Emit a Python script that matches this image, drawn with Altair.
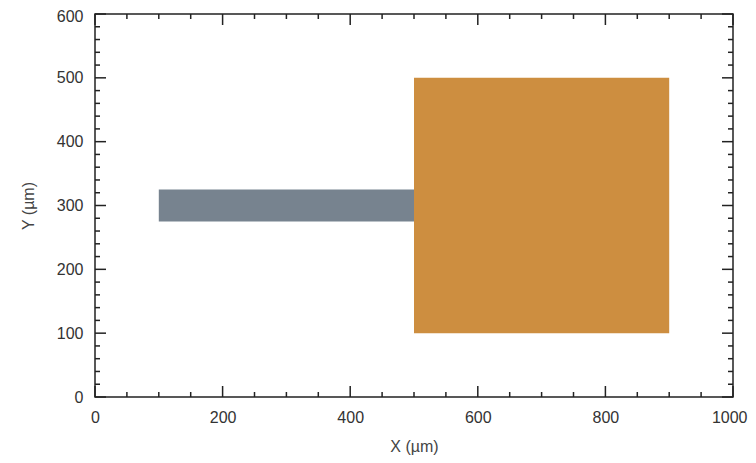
import altair as alt
import pandas as pd

# ---- data ----
shape_names = ["strip", "pad"]
x_start = [100, 500]
x_end = [500, 900]
y_start = [275, 100]
y_end = [325, 500]
fill_colors = ["#77838f", "#cd8e40"]

x_major = [0, 200, 400, 600, 800, 1000]
x_minor = [50, 100, 150, 250, 300, 350, 450, 500, 550, 650, 700, 750, 850, 900, 950]
y_major = [0, 100, 200, 300, 400, 500, 600]
y_minor = [20, 40, 60, 80, 120, 140, 160, 180, 220, 240, 260, 280, 320, 340, 360, 380,
           420, 440, 460, 480, 520, 540, 560, 580]

W, H = 638, 383
MAJ, MIN = 11, 5
INK = "#222222"
FONT = "Liberation Sans"

shapes = pd.DataFrame({"name": shape_names, "x0": x_start, "x1": x_end,
                       "y0": y_start, "y1": y_end, "c": fill_colors})

xs = alt.Scale(domain=[0, 1000], nice=False, zero=False)
ys = alt.Scale(domain=[0, 600], nice=False, zero=False)

x_axis = alt.Axis(
    values=x_major, format="d", ticks=False, domain=False, grid=False, labelPadding=12,
    labelFontSize=16, labelFont=FONT, labelColor="#333333", title="X (µm)",
    labelAlign={"condition": {"test": "datum.value == 1000", "value": "right"}, "value": "center"},
    labelOffset={"condition": {"test": "datum.value == 1000", "value": 14}, "value": 0},
    titleFont=FONT, titleFontSize=16, titleFontWeight="normal", titleColor="#444444",
    titlePadding=13, labelFlush=False, labelOverlap=False)
y_axis = alt.Axis(
    values=y_major, format="d", ticks=False, domain=False, grid=False, labelPadding=12,
    labelFontSize=16, labelFont=FONT, labelColor="#333333", title="Y (µm)",
    labelOffset={"condition": {"test": "datum.value == 600", "value": 2}, "value": 0},
    titleFont=FONT, titleFontSize=16, titleFontWeight="normal", titleColor="#444444",
    titlePadding=20, labelFlush=False, labelOverlap=False)

rects = alt.Chart(shapes).mark_rect().encode(
    x=alt.X("x0:Q", scale=xs, axis=x_axis),
    x2="x1:Q",
    y=alt.Y("y0:Q", scale=ys, axis=y_axis),
    y2="y1:Q",
    color=alt.Color("c:N", scale=None),
)


def xticks(vals, length, top):
    d = pd.DataFrame({"v": vals})
    if top:
        y0, y1 = 0, length
    else:
        y0, y1 = H, H - length
    return alt.Chart(d).mark_rule(color=INK, strokeWidth=1.5).encode(
        x=alt.X("v:Q", scale=xs, axis=x_axis), y=alt.value(y0), y2=alt.value(y1))


def yticks(vals, length, right):
    d = pd.DataFrame({"v": vals})
    if right:
        x0, x1 = W, W - length
    else:
        x0, x1 = 0, length
    return alt.Chart(d).mark_rule(color=INK, strokeWidth=1.5).encode(
        y=alt.Y("v:Q", scale=ys, axis=y_axis), x=alt.value(x0), x2=alt.value(x1))


chart = alt.layer(
    rects,
    xticks(x_major, MAJ, False), xticks(x_minor, MIN, False),
    xticks(x_major, MAJ, True), xticks(x_minor, MIN, True),
    yticks(y_major, MAJ, False), yticks(y_minor, MIN, False),
    yticks(y_major, MAJ, True), yticks(y_minor, MIN, True),
).properties(
    width=W, height=H,
    autosize=alt.AutoSizeParams(type="none"),
    padding={"left": 87, "top": 6, "right": 15, "bottom": 58},
    background="white",
).configure_view(stroke=INK, strokeWidth=1.5)

chart.save("out.html", embed_options={"renderer": "svg", "actions": False})
